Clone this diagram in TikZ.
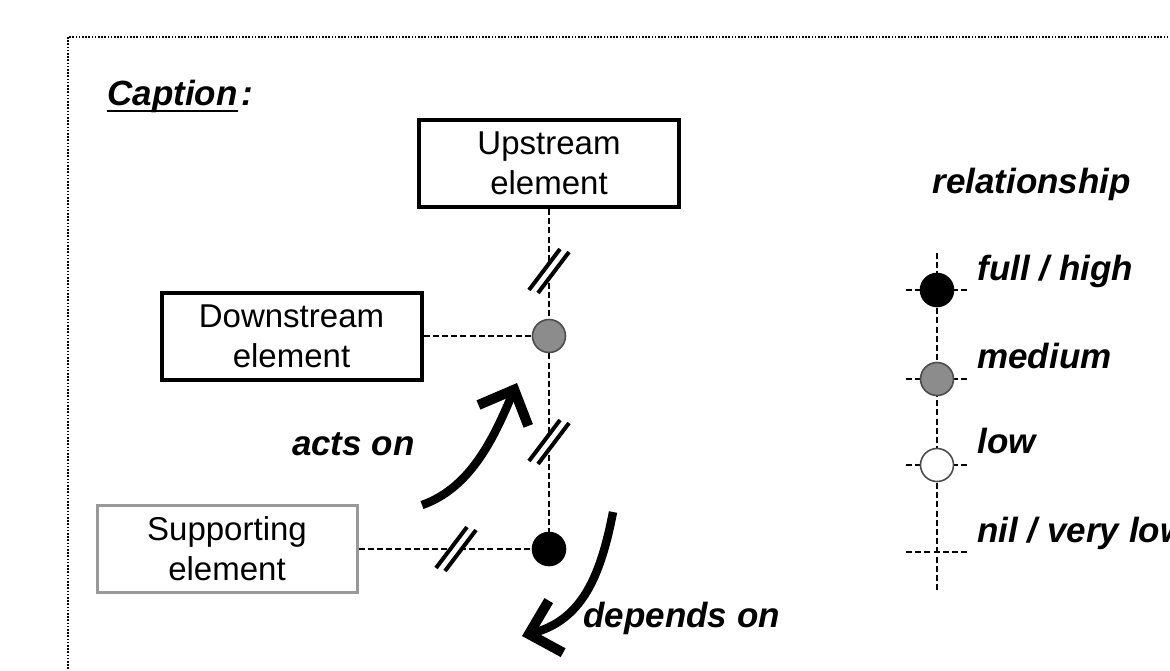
\documentclass[tikz,border=0pt]{standalone}
\usepackage{fontspec}
\setmainfont{Liberation Sans}
\usetikzlibrary{arrows.meta}
\tikzset{
    box/.style={draw, line width=2pt, minimum width=130pt, minimum height=43.5pt,
        align=center, inner sep=0pt, font=\fontsize{16.5}{20}\selectfont},
    lbl/.style={inner sep=0pt, font=\fontsize{17.5}{21}\selectfont\bfseries\itshape},
    dashline/.style={line width=1pt, dash pattern=on 3pt off 1.6pt},
    dot/.style={circle, minimum size=16.5pt, inner sep=0pt, line width=0.8pt},
    brkline/.style={line width=2pt},
    bigarrow/.style={line width=4.2pt, -{Straight Barb[length=14pt, width=27pt, line width=5pt]}},
    brk/.pic={
        \draw[white, line width=3.5pt] (-15.5,20.5) -- (15.5,-20.5);
        \draw[brkline] (-20,19) -- (11,-22);
        \draw[brkline] (-11,22) -- (20,-19);
    }
}
\begin{document}
\begin{tikzpicture}[x=0.5pt, y=-0.5pt]
    \useasboundingbox (0,0) rectangle (1170,670);
    \draw[line width=1pt, dash pattern=on 0.8pt off 0.8pt] (68,37) rectangle (1200,700);

    \node[lbl, anchor=base west] (cap) at (107,105) {Caption};
    \draw[line width=1pt] ([yshift=-3pt]cap.base west) -- ([yshift=-3pt]cap.base east);
    \node[lbl, anchor=base west] (colon) at (241,105) {:};

    \node[box] (up) at (549,163.5) {Upstream\\element};
    \node[box] (down) at (291.5,336) {Downstream\\element};
    \node[box, draw=black!40, line width=1.5pt] (supp) at (227,549) {Supporting\\element};

    \node[dot, draw=black!70, fill=black!45] (gm) at (549,336) {};
    \node[dot, draw=black, fill=black] (bm) at (549,549) {};

    \draw[dashline] (up) -- (gm);
    \draw[dashline] (gm) -- (bm);
    \draw[dashline] (down) -- (gm);
    \draw[dashline] (supp) -- (bm);

    \pic at (549,271) {brk};
    \pic at (549,442) {brk};
    \pic at (456,549) {brk};

    \coordinate (a1) at (422,505);
    \coordinate (a2) at (517,383);
    \coordinate (d1) at (613,512);
    \coordinate (d2) at (522,636);
    \draw[bigarrow] (a1) .. controls (470,488) and (493,440) .. (a2);
    \draw[bigarrow] (d1) .. controls (600,580) and (580,620) .. (d2);
    \node[lbl, anchor=base east] (acts) at (415,455) {acts on};
    \node[lbl, anchor=base west] (dep) at (583,627) {depends on};

    \node[lbl, anchor=base west] (rel) at (932,193) {relationship};
    \coordinate (ltop) at (937,253);
    \coordinate (lbot) at (937,592);
    \draw[dashline] (ltop) -- (lbot);
    \foreach \yy in {290,379,465,552}
        \draw[dashline] (906,\yy) -- (968,\yy);
    \node[dot, draw=black, fill=black] (high) at (937,290) {};
    \node[dot, draw=black!70, fill=black!45] (med) at (937,379) {};
    \node[dot, draw=black!70, fill=white] (low) at (937,465) {};
    \node[lbl, anchor=base west] (thigh) at (977,280) {full / high};
    \node[lbl, anchor=base west] (tmed) at (977,368) {medium};
    \node[lbl, anchor=base west] (tlow) at (977,453) {low};
    \node[lbl, anchor=base west] (tnil) at (977,542) {nil / very low};
\end{tikzpicture}
\end{document}
